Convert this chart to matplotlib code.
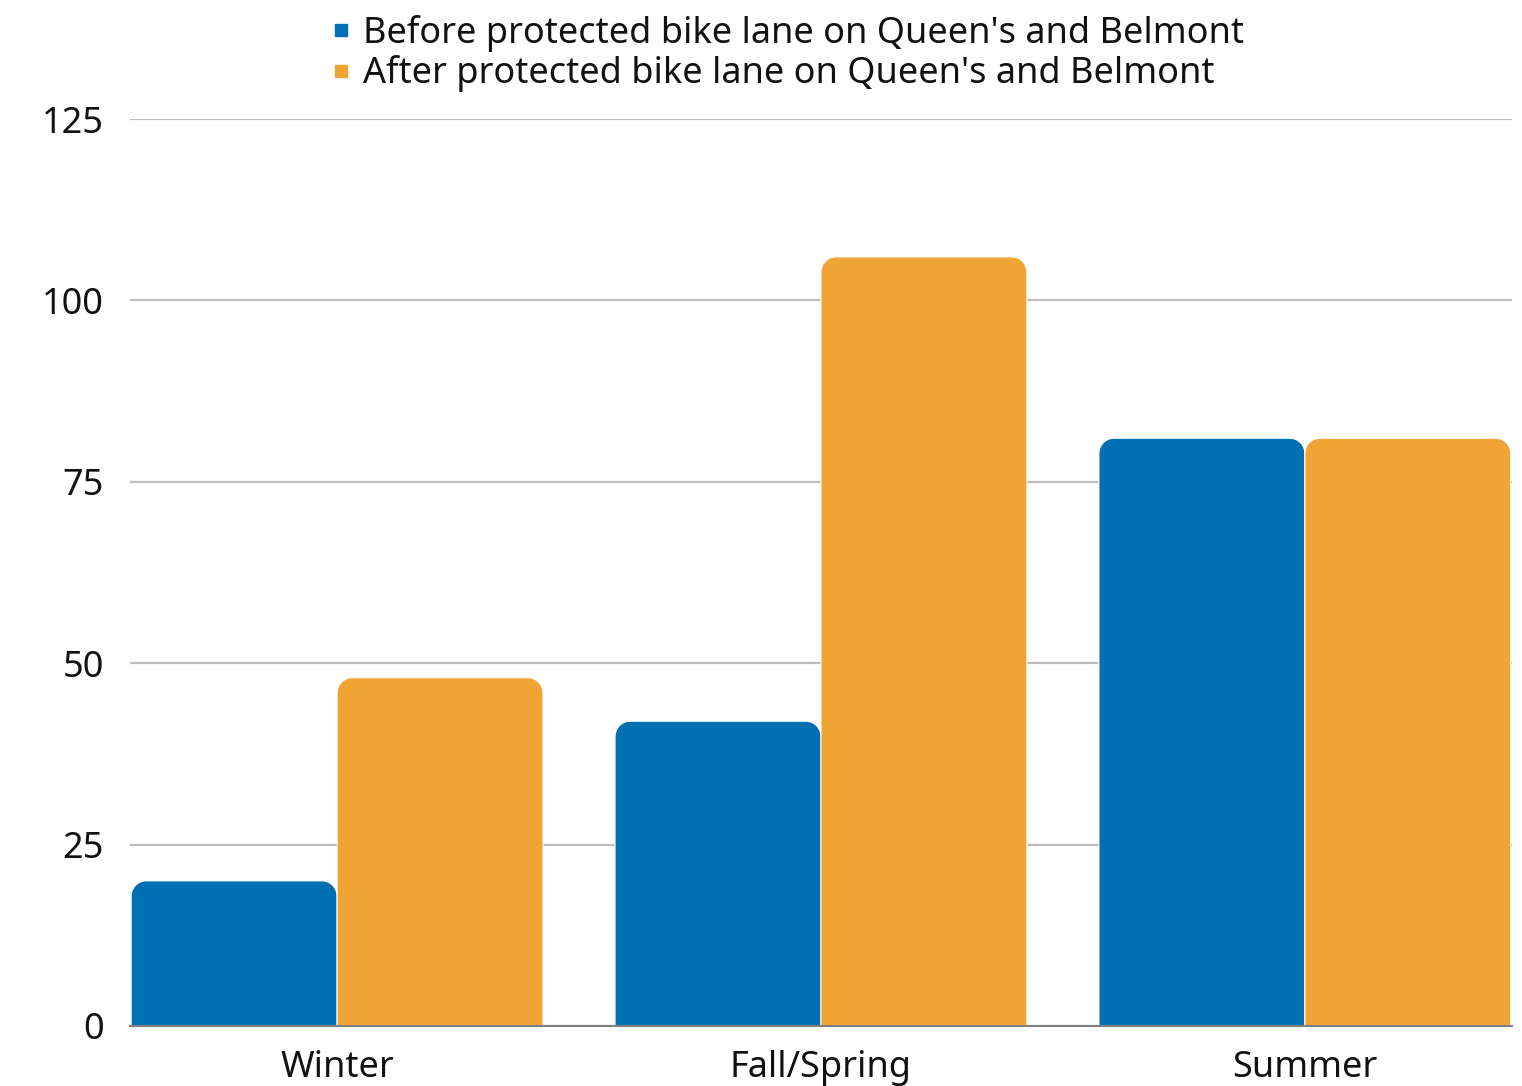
import numpy as np
import matplotlib
matplotlib.use('Agg')
import matplotlib.pyplot as plt
from matplotlib.path import Path
from matplotlib.patches import PathPatch
from matplotlib.lines import Line2D

plt.rcParams['font.family'] = ['Noto Sans', 'DejaVu Sans']

# counts per season
seasons = ['Winter', 'Fall/Spring', 'Summer']
before_lane = [20, 42, 81]
after_lane = [48, 106, 81]
series_names = ["Before protected bike lane on Queen's and Belmont",
                "After protected bike lane on Queen's and Belmont"]
yticks = [0, 25, 50, 75, 100, 125]

BLUE = '#0070b2'
ORANGE = '#f1a436'


def rounded_top_bar(ax, x0, width, height, rx, ry, color):
    # bar with only the two top corners rounded
    x1 = x0 + width
    k = 0.55
    verts = [
        (x0, 0), (x0, height - ry),
        (x0, height - ry + k * ry), (x0 + rx - k * rx, height), (x0 + rx, height),
        (x1 - rx, height),
        (x1 - rx + k * rx, height), (x1, height - ry + k * ry), (x1, height - ry),
        (x1, 0), (x0, 0),
    ]
    codes = [Path.MOVETO, Path.LINETO,
             Path.CURVE4, Path.CURVE4, Path.CURVE4,
             Path.LINETO,
             Path.CURVE4, Path.CURVE4, Path.CURVE4,
             Path.LINETO, Path.CLOSEPOLY]
    patch = PathPatch(Path(verts, codes), facecolor=color, edgecolor='white',
                      linewidth=0.8, zorder=3)
    ax.add_patch(patch)


fig = plt.figure(figsize=(15.22, 10.86), dpi=100)
ax = fig.add_axes([0.0854, 0.0553, 0.908, 0.8351])

x = np.arange(len(seasons))
w = 0.4256
ax.set_xlim(-0.428, 2.428)
ax.set_ylim(0, 125)

rx = 0.031
ry = 2.1
for i in range(len(seasons)):
    rounded_top_bar(ax, x[i] - w, w, before_lane[i], rx, ry, BLUE)
    rounded_top_bar(ax, x[i], w, after_lane[i], rx, ry, ORANGE)

ax.set_yticks(yticks)
ax.set_xticks(x)
ax.set_xticklabels(seasons)
ax.yaxis.grid(True, color='#bdbdbd', linewidth=1.6, zorder=0)
ax.set_axisbelow(True)
for side in ['left', 'right', 'top']:
    ax.spines[side].set_visible(False)
ax.spines['bottom'].set_color('#808080')
ax.spines['bottom'].set_linewidth(1.5)
ax.spines['bottom'].set_zorder(4)
ax.tick_params(axis='both', length=0, labelsize=26, colors='#111111')
ax.tick_params(axis='y', pad=19)
ax.tick_params(axis='x', pad=17)

handles = [Line2D([], [], marker='s', linestyle='none', color=BLUE, markersize=9),
           Line2D([], [], marker='s', linestyle='none', color=ORANGE, markersize=9)]
fig.legend(handles, series_names, loc='upper left', bbox_to_anchor=(0.191, 1.016),
           frameon=False, fontsize=26, handletextpad=0.1, labelspacing=0.09,
           handlelength=1.0, labelcolor='#111111')

plt.savefig('out.png', dpi=100)
